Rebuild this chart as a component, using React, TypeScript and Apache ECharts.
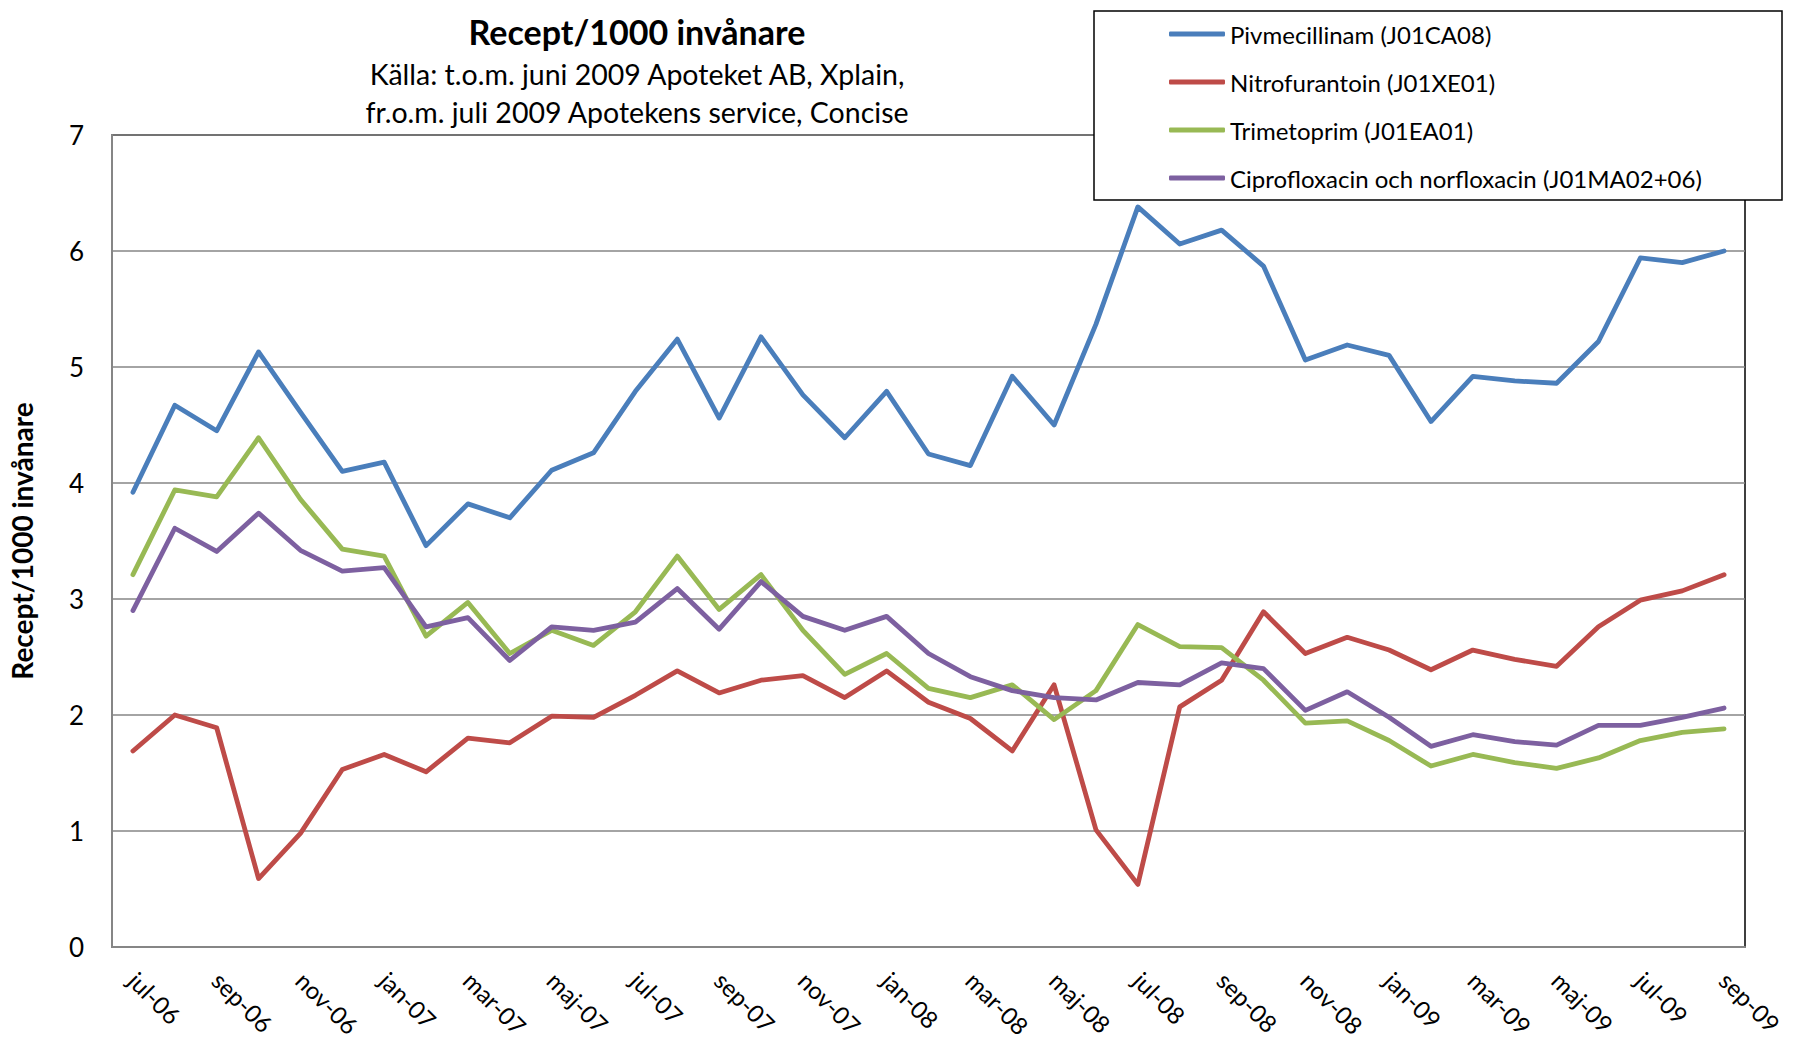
import React, { useEffect, useRef } from "react";
import * as echarts from "echarts";

const months = [
  "jul-06", "aug-06", "sep-06", "okt-06", "nov-06", "dec-06",
  "jan-07", "feb-07", "mar-07", "apr-07", "maj-07", "jun-07",
  "jul-07", "aug-07", "sep-07", "okt-07", "nov-07", "dec-07",
  "jan-08", "feb-08", "mar-08", "apr-08", "maj-08", "jun-08",
  "jul-08", "aug-08", "sep-08", "okt-08", "nov-08", "dec-08",
  "jan-09", "feb-09", "mar-09", "apr-09", "maj-09", "jun-09",
  "jul-09", "aug-09", "sep-09",
];

const pivmecillinam = [
  3.92, 4.67, 4.45, 5.13, 4.61, 4.10, 4.18, 3.46, 3.82, 3.70,
  4.11, 4.26, 4.79, 5.24, 4.56, 5.26, 4.76, 4.39, 4.79, 4.25,
  4.15, 4.92, 4.50, 5.37, 6.38, 6.06, 6.18, 5.87, 5.06, 5.19,
  5.10, 4.53, 4.92, 4.88, 4.86, 5.22, 5.94, 5.90, 6.00,
];
const nitrofurantoin = [
  1.69, 2.00, 1.89, 0.59, 0.98, 1.53, 1.66, 1.51, 1.80, 1.76,
  1.99, 1.98, 2.17, 2.38, 2.19, 2.30, 2.34, 2.15, 2.38, 2.11,
  1.97, 1.69, 2.26, 1.01, 0.54, 2.07, 2.30, 2.89, 2.53, 2.67,
  2.56, 2.39, 2.56, 2.48, 2.42, 2.76, 2.99, 3.07, 3.21,
];
const trimetoprim = [
  3.21, 3.94, 3.88, 4.39, 3.86, 3.43, 3.37, 2.68, 2.97, 2.53,
  2.73, 2.60, 2.89, 3.37, 2.91, 3.21, 2.73, 2.35, 2.53, 2.23,
  2.15, 2.26, 1.96, 2.21, 2.78, 2.59, 2.58, 2.30, 1.93, 1.95,
  1.78, 1.56, 1.66, 1.59, 1.54, 1.63, 1.78, 1.85, 1.88,
];
const ciproNorflox = [
  2.90, 3.61, 3.41, 3.74, 3.42, 3.24, 3.27, 2.76, 2.84, 2.47,
  2.76, 2.73, 2.80, 3.09, 2.74, 3.15, 2.85, 2.73, 2.85, 2.53,
  2.33, 2.21, 2.15, 2.13, 2.28, 2.26, 2.45, 2.40, 2.04, 2.20,
  1.98, 1.73, 1.83, 1.77, 1.74, 1.91, 1.91, 1.98, 2.06,
];

const seriesNames = [
  "Pivmecillinam (J01CA08)",
  "Nitrofurantoin (J01XE01)",
  "Trimetoprim (J01EA01)",
  "Ciprofloxacin och norfloxacin (J01MA02+06)",
];
const seriesData = [pivmecillinam, nitrofurantoin, trimetoprim, ciproNorflox];
const colors = ["#4A7EBB", "#BE4B48", "#98B954", "#7D60A0"];

const titleText = "Recept/1000 invånare";
const subtitle1 = "Källa: t.o.m. juni 2009 Apoteket AB, Xplain,";
const subtitle2 = "fr.o.m. juli 2009 Apotekens service, Concise";
const yAxisName = "Recept/1000 invånare";

const FONT = "Lato, 'Open Sans', sans-serif";

export default function App() {
  const ref = useRef<HTMLDivElement>(null);
  useEffect(() => {
    if (!ref.current) return;
    const chart = echarts.init(ref.current, null, { renderer: "svg" });
    chart.setOption({
      animation: false,
      backgroundColor: "#ffffff",
      textStyle: { fontFamily: FONT },
      grid: {
        left: 112,
        right: 48,
        top: 135,
        bottom: 117,
        show: true,
        borderColor: "#000000",
        borderWidth: 1.5,
        backgroundColor: "transparent",
      },
      xAxis: {
        type: "category",
        data: months,
        boundaryGap: true,
        axisLine: { show: true, lineStyle: { color: "#868686", width: 2 } },
        axisTick: { show: false },
        axisLabel: {
          interval: 1,
          rotate: -45,
          fontSize: 24,
          color: "#000",
          fontFamily: FONT,
          margin: 29,
        },
        splitLine: { show: false },
      },
      yAxis: {
        type: "value",
        min: 0,
        max: 7,
        interval: 1,
        name: yAxisName,
        nameLocation: "middle",
        nameGap: 76,
        nameRotate: 90,
        nameTextStyle: { fontSize: 28, fontWeight: "bold", color: "#000", fontFamily: FONT },
        axisLine: { show: true, lineStyle: { color: "#868686", width: 2 } },
        axisTick: { show: false },
        axisLabel: { fontSize: 26, color: "#000", margin: 28, fontFamily: FONT },
        splitLine: { show: true, lineStyle: { color: "#868686", width: 1.5 } },
      },
      legend: {
        orient: "vertical",
        left: 1164,
        top: 16,
        z: 20,
        icon: "roundRect",
        itemWidth: 56,
        itemHeight: 5,
        itemGap: 22,
        textStyle: { fontSize: 24, color: "#000", fontFamily: FONT, lineHeight: 26 },
        data: seriesNames,
      },
      graphic: [
        {
          type: "rect",
          z: 10,
          shape: { x: 1094, y: 11, width: 688, height: 189 },
          style: { fill: "#ffffff", stroke: "#000000", lineWidth: 1.5 },
        },
        {
          type: "text",
          x: 637,
          y: 31,
          style: {
            text: titleText,
            fontSize: 34,
            fontWeight: "bold",
            fontFamily: FONT,
            fill: "#000",
            align: "center",
            verticalAlign: "middle",
          },
        },
        {
          type: "text",
          x: 637,
          y: 74,
          style: {
            text: subtitle1,
            fontSize: 28.5,
            fontFamily: FONT,
            fill: "#000",
            align: "center",
            verticalAlign: "middle",
          },
        },
        {
          type: "text",
          x: 637,
          y: 112,
          style: {
            text: subtitle2,
            fontSize: 28.5,
            fontFamily: FONT,
            fill: "#000",
            align: "center",
            verticalAlign: "middle",
          },
        },
      ],
      series: seriesNames.map((name, i) => ({
        name,
        type: "line",
        data: seriesData[i],
        symbol: "none",
        showSymbol: false,
        color: colors[i],
        lineStyle: { color: colors[i], width: 4.8, cap: "round", join: "round" },
        z: 3,
      })),
    });
    return () => chart.dispose();
  }, []);
  return (
    <div
      ref={ref}
      style={{ position: "fixed", left: 0, top: 0, width: 1793, height: 1064, background: "#fff" }}
    />
  );
}
